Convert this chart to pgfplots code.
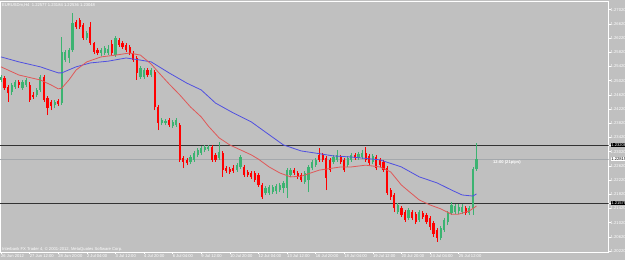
\documentclass[border=0pt]{standalone}
\usepackage{fontspec}
\setmainfont{Liberation Sans}
\usepackage{pgfplots}
\pgfplotsset{compat=1.18}
\usepackage{pgfplotstable}

\definecolor{bg}{HTML}{C0C0C0}
\definecolor{bull}{HTML}{3CB371}
\definecolor{bear}{HTML}{FF0000}
\definecolor{maslow}{HTML}{5050E0}
\definecolor{mafast}{HTML}{E05858}
\definecolor{hline}{HTML}{333333}
\definecolor{bidline}{HTML}{A4A8AC}
\newcommand\tf{\fontsize{4.15}{5}\selectfont}

\pgfplotstableread{
i o h l c
0 1.2504 1.2518 1.2498 1.2512
3 1.2470 1.2495 1.2462 1.2490
4 1.2484 1.2504 1.2479 1.2498
6 1.2481 1.2504 1.2476 1.2498
7 1.2490 1.2510 1.2484 1.2504
10 1.2462 1.2481 1.2456 1.2476
11 1.2476 1.2518 1.2470 1.2512
15 1.2434 1.2448 1.2425 1.2442
17 1.2439 1.2625 1.2434 1.2583
18 1.2560 1.2588 1.2555 1.2583
19 1.2566 1.2594 1.2552 1.2588
20 1.2588 1.2693 1.2583 1.2665
24 1.2622 1.2642 1.2617 1.2636
28 1.2580 1.2594 1.2572 1.2588
29 1.2580 1.2600 1.2574 1.2594
30 1.2580 1.2603 1.2574 1.2591
32 1.2574 1.2628 1.2569 1.2622
39 1.2512 1.2543 1.2507 1.2538
40 1.2512 1.2538 1.2507 1.2532
42 1.2518 1.2538 1.2512 1.2532
45 1.2383 1.2397 1.2377 1.2391
46 1.2383 1.2394 1.2377 1.2388
48 1.2374 1.2391 1.2369 1.2386
49 1.2377 1.2397 1.2372 1.2391
53 1.2273 1.2293 1.2267 1.2287
54 1.2279 1.2304 1.2273 1.2298
55 1.2293 1.2312 1.2287 1.2307
56 1.2298 1.2318 1.2293 1.2312
57 1.2307 1.2321 1.2301 1.2315
58 1.2310 1.2321 1.2304 1.2315
61 1.2284 1.2329 1.2279 1.2301
66 1.2250 1.2270 1.2245 1.2264
67 1.2259 1.2293 1.2253 1.2287
74 1.2186 1.2205 1.2180 1.2200
75 1.2186 1.2208 1.2180 1.2203
76 1.2188 1.2208 1.2183 1.2203
77 1.2190 1.2210 1.2183 1.2205
78 1.2194 1.2214 1.2188 1.2208
79 1.2200 1.2219 1.2186 1.2214
80 1.2200 1.2256 1.2172 1.2250
81 1.2236 1.2256 1.2231 1.2250
85 1.2217 1.2248 1.2211 1.2242
86 1.2222 1.2264 1.2188 1.2259
87 1.2256 1.2279 1.2250 1.2273
88 1.2264 1.2284 1.2259 1.2279
93 1.2273 1.2293 1.2267 1.2287
94 1.2279 1.2307 1.2273 1.2293
97 1.2264 1.2290 1.2259 1.2284
98 1.2279 1.2298 1.2273 1.2293
100 1.2284 1.2301 1.2279 1.2296
101 1.2287 1.2307 1.2281 1.2298
104 1.2273 1.2296 1.2267 1.2290
111 1.2132 1.2157 1.2126 1.2152
114 1.2115 1.2143 1.2110 1.2138
117 1.2110 1.2138 1.2104 1.2132
123 1.2059 1.2093 1.2053 1.2087
124 1.2081 1.2115 1.2076 1.2110
125 1.2104 1.2135 1.2095 1.2129
126 1.2129 1.2160 1.2124 1.2152
127 1.2132 1.2155 1.2126 1.2149
128 1.2135 1.2155 1.2126 1.2146
129 1.2132 1.2155 1.2126 1.2146
131 1.2129 1.2149 1.2124 1.2143
132 1.2143 1.2259 1.2124 1.2253
133 1.2253 1.2326 1.2248 1.2281
}\up

\pgfplotstableread{
i o h l c
1 1.2510 1.2515 1.2476 1.2481
2 1.2484 1.2490 1.2442 1.2467
5 1.2498 1.2504 1.2481 1.2490
8 1.2490 1.2498 1.2442 1.2448
9 1.2462 1.2470 1.2450 1.2456
12 1.2512 1.2518 1.2442 1.2448
13 1.2453 1.2459 1.2405 1.2425
14 1.2442 1.2448 1.2419 1.2431
16 1.2445 1.2450 1.2431 1.2436
21 1.2667 1.2673 1.2648 1.2653
22 1.2673 1.2679 1.2648 1.2653
23 1.2659 1.2665 1.2617 1.2622
25 1.2653 1.2667 1.2603 1.2608
26 1.2608 1.2611 1.2577 1.2583
27 1.2588 1.2594 1.2574 1.2580
31 1.2605 1.2617 1.2574 1.2580
33 1.2617 1.2622 1.2597 1.2603
34 1.2608 1.2614 1.2591 1.2597
35 1.2603 1.2608 1.2583 1.2588
36 1.2597 1.2603 1.2574 1.2580
37 1.2580 1.2586 1.2555 1.2560
38 1.2566 1.2572 1.2504 1.2524
41 1.2532 1.2538 1.2512 1.2518
43 1.2526 1.2532 1.2419 1.2428
44 1.2428 1.2434 1.2363 1.2383
47 1.2391 1.2397 1.2372 1.2377
50 1.2377 1.2383 1.2273 1.2279
51 1.2284 1.2290 1.2256 1.2273
52 1.2279 1.2284 1.2264 1.2270
59 1.2315 1.2321 1.2273 1.2279
60 1.2293 1.2298 1.2273 1.2279
62 1.2298 1.2304 1.2231 1.2250
63 1.2256 1.2262 1.2242 1.2248
64 1.2253 1.2259 1.2239 1.2245
65 1.2256 1.2264 1.2242 1.2248
68 1.2259 1.2264 1.2231 1.2236
69 1.2245 1.2250 1.2231 1.2236
70 1.2242 1.2248 1.2225 1.2231
71 1.2242 1.2248 1.2217 1.2222
72 1.2236 1.2242 1.2203 1.2208
73 1.2208 1.2214 1.2169 1.2174
82 1.2250 1.2256 1.2236 1.2242
83 1.2242 1.2248 1.2225 1.2231
84 1.2236 1.2242 1.2217 1.2222
89 1.2293 1.2312 1.2273 1.2279
90 1.2293 1.2298 1.2273 1.2279
91 1.2284 1.2290 1.2194 1.2228
92 1.2279 1.2284 1.2245 1.2250
95 1.2287 1.2293 1.2267 1.2273
96 1.2279 1.2284 1.2245 1.2250
99 1.2293 1.2298 1.2279 1.2284
102 1.2298 1.2315 1.2273 1.2279
103 1.2290 1.2296 1.2264 1.2270
105 1.2287 1.2293 1.2250 1.2256
106 1.2279 1.2284 1.2259 1.2264
107 1.2273 1.2279 1.2245 1.2250
108 1.2256 1.2262 1.2180 1.2186
109 1.2194 1.2200 1.2166 1.2174
110 1.2180 1.2186 1.2132 1.2143
112 1.2143 1.2149 1.2118 1.2124
113 1.2132 1.2138 1.2104 1.2110
115 1.2132 1.2138 1.2110 1.2115
116 1.2126 1.2132 1.2098 1.2104
118 1.2129 1.2135 1.2112 1.2118
119 1.2124 1.2129 1.2098 1.2104
120 1.2115 1.2121 1.2081 1.2090
121 1.2101 1.2107 1.2062 1.2070
122 1.2081 1.2087 1.2048 1.2059
130 1.2143 1.2149 1.2124 1.2129
}\down

\begin{document}
\begin{tikzpicture}
\fill[bg] (0,0) rectangle (625bp,260bp);
\useasboundingbox (0,0) rectangle (625bp,260bp);
\begin{axis}[
  at={(0bp,8bp)}, anchor=south west,
  scale only axis, width=608.5bp, height=251bp,
  xmin=-0.28, xmax=169.93, ymin=1.20194, ymax=1.27265,
  clip mode=individual,
  axis background/.style={fill=bg},
  axis line style={white, line width=0.8bp},
  tick style={white, line width=0.6bp},
  major tick length=2bp, tick align=outside,
  ytick pos=right, xtick pos=bottom,
  /pgf/number format/assume math mode=true,
  ytick={1.2702,1.2662,1.2622,1.2582,1.2542,1.2502,1.2462,1.2422,1.2382,1.2342,1.2302,1.2262,1.2222,1.2182,1.2142,1.2102,1.2062,1.2022},
  yticklabels={1.27020,1.26620,1.26220,1.25820,1.25420,1.25020,1.24620,1.24220,1.23820,1.23420,1.23020,1.22620,1.22220,1.21820,1.21420,1.21020,1.20620,1.20220},
  yticklabel style={font=\tf, text=white, inner sep=0pt, anchor=west},
  extra y ticks={1.2321,1.2157},
  extra y tick labels={1.23208,1.21575},
  extra y tick style={yticklabel style={fill=black, text=white, inner sep=0.6bp, anchor=west}},
  xtick={0,8,16,24,32,40,48,56,64,72,80,88,96,104,112,120,128},
  xticklabels={26 Jun 2012,27 Jun 12:00,28 Jun 20:00,2 Jul 04:00,3 Jul 12:00,4 Jul 20:00,6 Jul 04:00,9 Jul 12:00,10 Jul 20:00,12 Jul 04:00,13 Jul 12:00,16 Jul 20:00,18 Jul 04:00,19 Jul 12:00,20 Jul 20:00,24 Jul 04:00,25 Jul 12:00},
  xticklabel style={font=\tf, text=white, inner sep=0pt, anchor=north west},
  candle/.style={draw=none, mark=none, forget plot,
    error bars/.cd, y dir=plus, y explicit, error mark=none},
]
% horizontal lines
\addplot[bidline, line width=0.8bp] coordinates {(-0.28,1.2281) (169.93,1.2281)};
\addplot[hline, line width=0.8bp] coordinates {(-0.28,1.2321) (169.93,1.2321)};
\addplot[hline, line width=0.8bp] coordinates {(-0.28,1.2157) (169.93,1.2157)};
% wicks
\addplot[candle, error bar style={draw=bull, line width=0.8bp}]
  table[x=i, y=l, y error plus expr=\thisrow{h}-\thisrow{l}] {\up};
\addplot[candle, error bar style={draw=bear, line width=0.8bp}]
  table[x=i, y=l, y error plus expr=\thisrow{h}-\thisrow{l}] {\down};
% bodies
\addplot[candle, error bar style={draw=bull, line width=2.2bp}]
  table[x=i, y=o, y error plus expr=\thisrow{c}-\thisrow{o}] {\up};
\addplot[candle, error bar style={draw=bear, line width=2.2bp}]
  table[x=i, y=c, y error plus expr=\thisrow{o}-\thisrow{c}] {\down};
% moving averages
\addplot[maslow, line width=0.8bp] coordinates {
(0,1.2569) (5,1.2555) (11,1.2541) (16,1.2524) (17,1.2524) (21,1.2541) (25,1.2552) (30,1.2557)
(35,1.2566) (39,1.2560) (42,1.2555) (47,1.2524) (52,1.2495) (56,1.2476) (60,1.2439) (65,1.2411)
(70,1.2386) (74,1.2357) (79,1.2321) (84,1.2304) (88,1.2298) (93,1.2290) (98,1.2287) (106,1.2279)
(112,1.2259) (117,1.2231) (122,1.2214) (126,1.2194) (129,1.2180) (132,1.2177) (133,1.2183)};
\addplot[mafast, line width=0.8bp] coordinates {
(0,1.2541) (5,1.2518) (11,1.2504) (14,1.2490) (16,1.2479) (17,1.2481) (19,1.2504) (21,1.2532)
(24,1.2555) (28,1.2569) (32,1.2574) (36,1.2580) (39,1.2574) (42,1.2549) (44,1.2526) (47,1.2493)
(50,1.2462) (53,1.2428) (56,1.2400) (58,1.2374) (61,1.2341) (64,1.2321) (67,1.2307) (70,1.2293)
(72,1.2281) (75,1.2259) (78,1.2242) (81,1.2231) (84,1.2233) (89,1.2250) (95,1.2259) (98,1.2259)
(102,1.2264) (106,1.2259) (109,1.2245) (112,1.2208) (114,1.2191) (117,1.2166) (120,1.2152)
(123,1.2141) (126,1.2126) (128,1.2126) (131,1.2135) (133,1.2149)};
% texts
\node[anchor=west, text=white, font=\tf, inner sep=0pt] at (axis cs:0.28,1.2715)
  {EURUSDm,H4\ \ 1.22577 1.23184 1.22536 1.23048};
\node[anchor=west, text=white, font=\tf, inner sep=0pt] at (axis cs:0.28,1.2028)
  {Interbank FX Trader 4, \copyright\ 2001-2012, MetaQuotes Software Corp.};
\node[anchor=west, text=white, font=\bfseries\tf, inner sep=0pt] at (axis cs:137.6,1.2271)
  {12:00 (21pips)};
\node[anchor=west, fill=white, text=black, font=\tf, inner sep=0.6bp] at (axis cs:170.5,1.2281)
  {1.22815};
\end{axis}
\end{tikzpicture}
\end{document}
